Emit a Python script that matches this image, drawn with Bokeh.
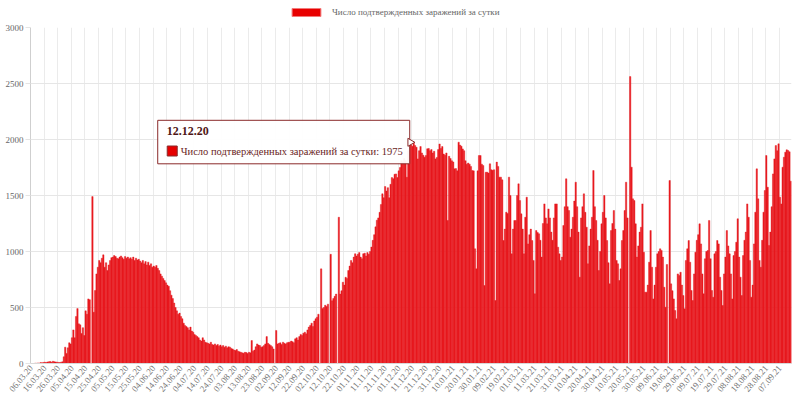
import math
import pandas as pd
from bokeh.plotting import figure
from bokeh.layouts import column
from bokeh.models import (ColumnDataSource, FixedTicker, Legend, LegendItem, Label)
from bokeh.embed import file_html
from bokeh.resources import INLINE

# ---------------- data ----------------
start_date = "2020-03-06"
series_name = "Число подтвержденных заражений за сутки"
cases = [
    0, 0, 0, 3, 2, 5, 4, 8, 6, 10,
    12, 9, 14, 15, 18, 11, 20, 16, 14, 12,
    10, 8, 12, 15, 60, 146, 90, 140, 185, 175,
    230, 300, 230, 420, 490, 354, 345, 268, 320, 250,
    470, 440, 577, 570, 0, 1490, 458, 652, 800, 860,
    920, 900, 940, 970, 860, 900, 830, 880, 920, 945,
    950, 964, 955, 940, 935, 950, 960, 945, 930, 955,
    940, 950, 935, 945, 930, 950, 920, 940, 925, 930,
    915, 900, 920, 890, 910, 880, 905, 875, 890, 860,
    870, 860, 875, 850, 830, 800, 780, 760, 740, 720,
    700, 690, 650, 610, 580, 540, 500, 470, 440, 450,
    420, 400, 360, 340, 330, 320, 300, 325, 290, 280,
    260, 250, 240, 230, 210, 200, 230, 210, 190, 185,
    180, 175, 190, 170, 165, 175, 160, 170, 155, 165,
    150, 160, 145, 155, 140, 150, 146, 135, 130, 120,
    116, 125, 110, 105, 100, 95, 92, 100, 98, 90,
    100, 95, 205, 110, 120, 150, 175, 165, 160, 146,
    150, 160, 175, 240, 180, 170, 160, 150, 130, 0,
    295, 175, 180, 185, 170, 190, 180, 175, 185, 190,
    190, 200, 195, 185, 220, 230, 210, 240, 260, 250,
    270, 280, 265, 300, 325, 340, 360, 330, 380, 400,
    414, 440, 0, 845, 490, 500, 520, 510, 530, 0,
    975, 560, 580, 600, 620, 0, 1306, 620, 650, 726,
    700, 770, 760, 830, 870, 920, 900, 950, 980, 960,
    975, 990, 950, 935, 980, 985, 960, 990, 975, 1000,
    1040, 1100, 1150, 1220, 1280, 1300, 1350, 1420, 1515, 1480,
    1580, 1540, 1570, 1480, 1600, 1660, 1650, 1690, 1693, 1660,
    1720, 1750, 1810, 1800, 1830, 1810, 1663, 1900, 1960, 1950,
    1940, 1975, 1946, 1930, 1827, 1900, 1937, 1880, 1860, 1842,
    1857, 1917, 1920, 1900, 1910, 1880, 1895, 1827, 1840, 1910,
    1960, 1920, 1937, 1870, 1860, 1880, 1277, 1850, 1830, 1810,
    1800, 1738, 1740, 1720, 1976, 1950, 1940, 1916, 1900, 1810,
    1780, 1790, 1780, 1760, 1723, 1720, 1024, 845, 1720, 1857,
    1857, 1780, 1768, 696, 1708, 1708, 1700, 1783, 1730, 1725,
    1730, 562, 1798, 1760, 1664, 1664, 1640, 1098, 1200, 1351,
    1340, 1664, 1500, 979, 1200, 1277, 1277, 1500, 1604, 1455,
    1336, 1200, 979, 1306, 1485, 1068, 1150, 1200, 1098, 920,
    622, 1187, 1170, 1158, 1100, 950, 1250, 1425, 1300, 1247,
    1380, 1300, 1173, 1100, 1300, 1425, 1425, 1039, 979, 920,
    950, 1232, 1400, 1649, 1400, 1366, 1128, 1200, 1306, 1450,
    1619, 1400, 1173, 771, 1300, 1400, 1515, 1350, 1217, 890,
    1050, 1200, 1306, 1723, 1400, 1277, 1100, 830, 1000, 1247,
    1350, 1500, 1300, 1098, 900, 711, 1187, 1250, 1366, 1200,
    920, 890, 741, 845, 1098, 1187, 1366, 1619, 1300, 0,
    2562, 1753, 1470, 1455, 1247, 950, 1050, 1173, 1217, 1425,
    994, 637, 637, 700, 905, 1187, 860, 577, 700, 860,
    979, 1000, 1024, 1010, 950, 681, 503, 884, 0, 1634,
    711, 650, 577, 473, 399, 800, 786, 815, 700, 607,
    488, 920, 1024, 1098, 905, 652, 562, 800, 994, 1100,
    1150, 1247, 1068, 800, 622, 935, 1000, 1009, 1277, 935,
    652, 592, 979, 1000, 1098, 1068, 771, 652, 518, 800,
    950, 1187, 1050, 979, 800, 577, 964, 1000, 1083, 1292,
    950, 771, 607, 964, 1100, 1173, 1425, 1306, 920, 592,
    700, 1068, 1351, 1738, 1470, 920, 860, 1100, 1351, 1545,
    1857, 1574, 1054, 1173, 1400, 1693, 1827, 1946, 1900, 1961,
    1485, 1425, 1753, 1842, 1887, 1908, 1902, 1890, 1628,
]
dates = pd.date_range(start_date, periods=len(cases), freq="D").strftime("%d.%m.%y").tolist()
y_ticks = [0, 500, 1000, 1500, 2000, 2500, 3000]
label_step = 10
tooltip_day = "12.12.20"

FONT = "Liberation Serif"
BAR_FILL = "#ea1a20"
BAR_LINE = "#e4161c"

n = len(cases)
idx = list(range(n))
src = ColumnDataSource(dict(x=idx, y=cases, date=dates))

# ---------------- legend strip ----------------
W = 796
LH = 22
lg = figure(width=W, height=LH, output_backend="svg", toolbar_location=None,
            x_range=(0, 1), y_range=(0, 1), x_axis_type=None, y_axis_type=None,
            min_border=0)
lg.grid.visible = False
lg.outline_line_color = None
legend_proxy = lg.vbar(x="x", top="y", width=1.0, source=src, fill_color="#e80000",
                       line_color="#f27a7a", line_width=1, visible=False)
legend = Legend(items=[LegendItem(label=series_name, renderers=[legend_proxy])],
                orientation="horizontal", location=(258, 5),
                glyph_width=36, glyph_height=10, label_standoff=8,
                label_text_font=FONT, label_text_font_size="9px",
                label_text_color="#666666", label_height=10,
                border_line_alpha=0, background_fill_alpha=0,
                inactive_fill_alpha=0, padding=0, margin=0)
lg.add_layout(legend)

# ---------------- main chart ----------------
H = 397 - LH
BL, BR, BT, BB = 30, 5, 5, 34
frame_w, frame_h = W - BL - BR, H - BT - BB
y_max = y_ticks[-1]

p = figure(width=W, height=H, output_backend="svg", toolbar_location=None,
           x_range=(-0.5, n - 0.5), y_range=(0, y_max),
           min_border_left=BL, min_border_right=BR, min_border_top=BT,
           min_border_bottom=BB)
p.outline_line_color = None

bars = p.vbar(x="x", top="y", width=1.0, source=src,
              fill_color=BAR_FILL, line_color=BAR_LINE, line_width=0.4)

# y axis
p.yaxis.ticker = FixedTicker(ticks=y_ticks)
p.yaxis.major_label_text_font = FONT
p.yaxis.major_label_text_font_size = "9px"
p.yaxis.major_label_text_color = "#666666"
p.yaxis.major_tick_out = 5
p.yaxis.major_tick_in = 0
p.yaxis.major_tick_line_color = "#e4e4e4"
p.yaxis.minor_tick_line_color = None
p.yaxis.axis_line_color = "#cfcfcf"
p.yaxis.major_label_standoff = 2

# x axis
shown = idx[::label_step]
p.xaxis.ticker = FixedTicker(ticks=shown)
p.xaxis.major_label_overrides = {i: dates[i] for i in shown}
p.xaxis.major_label_orientation = math.radians(50)
p.xaxis.major_label_text_font = FONT
p.xaxis.major_label_text_font_size = "9px"
p.xaxis.major_label_text_color = "#777777"
p.xaxis.major_tick_out = 0
p.xaxis.major_tick_in = 0
p.xaxis.minor_tick_line_color = None
p.xaxis.axis_line_color = "#d8d8d8"
p.xaxis.major_label_standoff = 3

p.xgrid.ticker = FixedTicker(ticks=[i - 0.5 for i in shown])
p.xgrid.grid_line_color = "#ebebeb"
p.ygrid.ticker = FixedTicker(ticks=y_ticks)
p.ygrid.grid_line_color = "#e6e6e6"

# tooltip at 12.12.20
px_day = frame_w / n
px_unit = frame_h / y_max
dx = lambda px: px / px_day
dy = lambda px: px / px_unit
t_i = dates.index(tooltip_day)
t_v = cases[t_i]
box_r = t_i - dx(4)
box_l = box_r - dx(252)
box_t = t_v + dy(22)
box_b = t_v - dy(21.5)
MAROON = "#8a2a2a"
p.quad(left=[box_l], right=[box_r], top=[box_t], bottom=[box_b],
       fill_color="white", fill_alpha=0.95, line_color=MAROON, line_width=1)
p.scatter(x=[t_i - dx(3.5)], y=[t_v], marker="triangle", angle=-math.pi / 2,
          size=8, fill_color="white", line_color=MAROON, line_width=1)
p.scatter(x=[box_l + dx(14.5)], y=[t_v - dy(8.7)], marker="square", size=10,
          fill_color="#e60000", line_color=MAROON, line_width=1)
p.add_layout(Label(x=box_l + dx(9), y=box_t - dy(11), text=tooltip_day,
                   text_font=FONT, text_font_style="bold", text_font_size="12px",
                   text_color="#4e1515", text_baseline="middle"))
p.add_layout(Label(x=box_l + dx(23), y=t_v - dy(8.7),
                   text=f"{series_name}: {t_v}",
                   text_font=FONT, text_font_size="10.5px",
                   text_color="#6a2424", text_baseline="middle"))

open("out.html", "w").write(file_html(column(lg, p, spacing=0), INLINE))
